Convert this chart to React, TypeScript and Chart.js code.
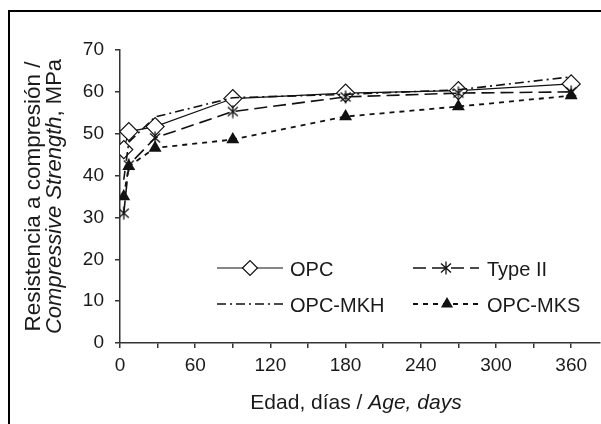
import { useEffect, useRef } from 'react';
import { Chart, registerables } from 'chart.js';

Chart.register(...registerables);

// ---- Data ----
const ages = [3, 7, 28, 90, 180, 270, 360];
const opc = [46.2, 50.5, 51.7, 58.4, 59.7, 60.3, 61.9];
const typeII = [31, 42.5, 49, 55.3, 58.8, 59.7, 60.0];
const opcMKH = [39, 48, 54, 58.6, 59.4, 60.5, 63.6];
const opcMKS = [35, 42.2, 46.6, 48.6, 54.1, 56.5, 59.1];
const seriesNames = ['OPC', 'Type II', 'OPC-MKH', 'OPC-MKS'];
const xTickValues = [0, 30, 60, 90, 120, 150, 180, 210, 240, 270, 300, 330, 360];
const xTickLabels = [0, 60, 120, 180, 240, 300, 360];
const yTickValues = [0, 10, 20, 30, 40, 50, 60, 70];
const yTitleLine1 = 'Resistencia a compresión /';
const yTitleItalic = 'Compressive Strength';
const yTitleRest = ', MPa';
const xTitleNormal = 'Edad, días / ';
const xTitleItalic = 'Age, days';

const FONT = '"Liberation Sans", Arial, Helvetica, sans-serif';
const INK = '#1a1a1a';
const PLOT_RIGHT = 600;

function makeStar(): HTMLCanvasElement {
  const c = document.createElement('canvas');
  c.width = 14;
  c.height = 14;
  const g = c.getContext('2d')!;
  g.strokeStyle = '#111';
  g.lineWidth = 1.3;
  g.beginPath();
  g.moveTo(2, 2.5); g.lineTo(12, 11.5);
  g.moveTo(12, 2.5); g.lineTo(2, 11.5);
  g.moveTo(7, 0.5); g.lineTo(7, 13.5);
  g.stroke();
  return c;
}

function drawMarker(ctx: CanvasRenderingContext2D, ds: any, x: number, y: number, r: number) {
  if (ds.legendMarker === false) return;
  const style = ds.pointStyle;
  ctx.save();
  ctx.setLineDash([]);
  if (style instanceof HTMLCanvasElement) {
    ctx.drawImage(style, x - style.width / 2, y - style.height / 2);
  } else if (style === 'rectRot') {
    ctx.beginPath();
    ctx.moveTo(x - r, y);
    ctx.lineTo(x, y - r);
    ctx.lineTo(x + r, y);
    ctx.lineTo(x, y + r);
    ctx.closePath();
    ctx.fillStyle = ds.pointBackgroundColor;
    ctx.fill();
    ctx.lineWidth = ds.pointBorderWidth;
    ctx.strokeStyle = ds.pointBorderColor;
    ctx.stroke();
  } else if (style === 'triangle') {
    ctx.beginPath();
    for (let i = 0; i < 3; i++) {
      const a = (i * 2 * Math.PI) / 3;
      const px = x + Math.sin(a) * r;
      const py = y - Math.cos(a) * r;
      if (i === 0) ctx.moveTo(px, py); else ctx.lineTo(px, py);
    }
    ctx.closePath();
    ctx.fillStyle = ds.pointBackgroundColor;
    ctx.fill();
  }
  ctx.restore();
}

const decorPlugin = {
  id: 'decor',
  afterLayout(chart: any) {
    const xs = chart.scales.x;
    xs.right = PLOT_RIGHT;
    xs.width = xs.right - xs.left;
    xs.configure();
    chart.chartArea.right = PLOT_RIGHT;
    chart.chartArea.width = PLOT_RIGHT - chart.chartArea.left;
  },
  afterDraw(chart: any) {
    const ctx: CanvasRenderingContext2D = chart.ctx;
    const area = chart.chartArea;
    ctx.save();
    ctx.fillStyle = INK;
    const cy = (area.top + area.bottom) / 2;
    ctx.textBaseline = 'alphabetic';
    ctx.font = `22.5px ${FONT}`;
    ctx.save();
    ctx.translate(40, cy);
    ctx.rotate(-Math.PI / 2);
    ctx.textAlign = 'center';
    ctx.fillText(yTitleLine1, 0, 0);
    ctx.restore();
    ctx.save();
    ctx.translate(61, cy);
    ctx.rotate(-Math.PI / 2);
    ctx.textAlign = 'left';
    ctx.font = `italic 22px ${FONT}`;
    const w1 = ctx.measureText(yTitleItalic).width;
    ctx.font = `22px ${FONT}`;
    const w2 = ctx.measureText(yTitleRest).width;
    const sx = -(w1 + w2) / 2;
    ctx.font = `italic 22px ${FONT}`;
    ctx.fillText(yTitleItalic, sx, 0);
    ctx.font = `22px ${FONT}`;
    ctx.fillText(yTitleRest, sx + w1, 0);
    ctx.restore();

    ctx.font = `21px ${FONT}`;
    const wa = ctx.measureText(xTitleNormal).width;
    ctx.font = `italic 21px ${FONT}`;
    const wb = ctx.measureText(xTitleItalic).width;
    const cx = 356;
    const tx = cx - (wa + wb) / 2;
    ctx.textAlign = 'left';
    ctx.font = `21px ${FONT}`;
    ctx.fillText(xTitleNormal, tx, 409);
    ctx.font = `italic 21px ${FONT}`;
    ctx.fillText(xTitleItalic, tx + wa, 409);

    const slots = [
      { x0: 217, x1: 283, y: 268, tx: 290 },
      { x0: 413, x1: 479, y: 268, tx: 487 },
      { x0: 217, x1: 283, y: 304, tx: 290 },
      { x0: 413, x1: 481, y: 304, tx: 487 },
    ];
    chart.data.datasets.forEach((ds: any, i: number) => {
      const s = slots[i];
      ctx.save();
      ctx.beginPath();
      ctx.setLineDash(ds.borderDash || []);
      ctx.lineWidth = ds.borderWidth;
      ctx.strokeStyle = ds.borderColor;
      ctx.moveTo(s.x0, s.y);
      ctx.lineTo(s.x1, s.y);
      ctx.stroke();
      ctx.restore();
      drawMarker(ctx, ds, (s.x0 + s.x1) / 2, s.y, ds.legendRadius || 0);
      ctx.fillStyle = INK;
      ctx.font = `20px ${FONT}`;
      ctx.textAlign = 'left';
      ctx.textBaseline = 'alphabetic';
      ctx.fillText(ds.label, s.tx, s.y + 7.5);
    });
    ctx.restore();
  },
};

export default function App() {
  const ref = useRef<HTMLCanvasElement | null>(null);
  useEffect(() => {
    if (!ref.current) return;
    const star = makeStar();
    const mk = (vals: number[]) => ages.map((a, i) => ({ x: a, y: vals[i] }));
    const chart = new Chart(ref.current, {
      type: 'line',
      data: {
        datasets: [
          { label: seriesNames[0], data: mk(opc), borderColor: '#111', borderWidth: 1.2, borderDash: [], pointStyle: 'rectRot', pointRadius: 9, pointBackgroundColor: '#fff', pointBorderColor: '#111', pointBorderWidth: 1.2, legendRadius: 7.5, order: 4 } as any,
          { label: seriesNames[1], data: mk(typeII), borderColor: '#111', borderWidth: 1.6, borderDash: [13, 6], pointStyle: star, pointRadius: 7, legendRadius: 7, order: 3 } as any,
          { label: seriesNames[2], data: mk(opcMKH), borderColor: '#111', borderWidth: 1.6, borderDash: [9, 4, 2, 4], pointRadius: 0, legendMarker: false, order: 2 } as any,
          { label: seriesNames[3], data: mk(opcMKS), borderColor: '#111', borderWidth: 1.8, borderDash: [5, 5], pointStyle: 'triangle', pointRadius: 7.5, pointBackgroundColor: '#111', pointBorderColor: '#111', pointBorderWidth: 0, legendRadius: 7, order: 1 } as any,
        ],
      },
      options: {
        animation: false,
        responsive: false,
        devicePixelRatio: 1,
        layout: { padding: { left: 0, top: 50, right: 1, bottom: 0 } },
        plugins: { legend: { display: false }, tooltip: { enabled: false }, title: { display: false } },
        elements: { line: { tension: 0, fill: false } },
        scales: {
          x: {
            type: 'linear', min: 0, max: 383,
            afterBuildTicks: (s: any) => { s.ticks = xTickValues.map((v) => ({ value: v })); },
            afterFit: (s: any) => { s.height = 81; s.paddingLeft = 0; s.paddingRight = 0; },
            ticks: { autoSkip: false, maxRotation: 0, padding: 6, color: INK, font: { family: FONT, size: 19 },
              callback: (v: any) => (xTickLabels.includes(Number(v)) ? String(v) : '') },
            grid: { drawOnChartArea: false, drawTicks: true, tickLength: 5, color: '#333', lineWidth: 1.5 },
            border: { display: true, color: '#333', width: 1.5 },
          },
          y: {
            type: 'linear', min: 0, max: 70,
            afterBuildTicks: (s: any) => { s.ticks = yTickValues.map((v) => ({ value: v })); },
            afterFit: (s: any) => { s.width = 120; s.paddingTop = 0; s.paddingBottom = 0; },
            ticks: { padding: 11, color: INK, font: { family: FONT, size: 19 } },
            grid: { drawOnChartArea: false, drawTicks: true, tickLength: 5, color: '#333', lineWidth: 1.5 },
            border: { display: true, color: '#333', width: 1.5 },
          },
        },
      } as any,
      plugins: [decorPlugin],
    });
    return () => chart.destroy();
  }, []);

  return (
    <div style={{ position: 'fixed', left: 0, top: 0, width: 601, height: 424, overflow: 'hidden', background: '#fff' }}>
      <div style={{ position: 'absolute', left: 8, top: 10, width: 800, height: 600, borderTop: '2px solid #000', borderLeft: '2px solid #000' }} />
      <canvas ref={ref} width={601} height={424} style={{ position: 'absolute', left: 0, top: 0, width: 601, height: 424 }} />
    </div>
  );
}
